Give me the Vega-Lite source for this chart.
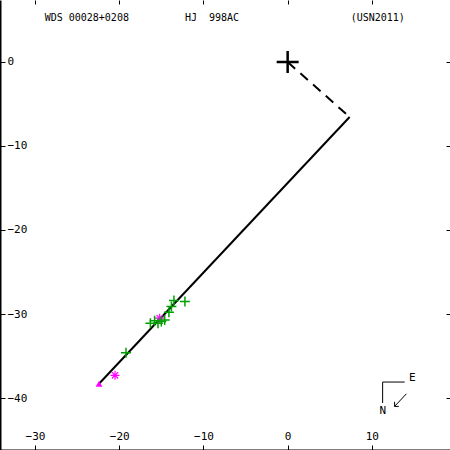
{
  "$schema": "https://vega.github.io/schema/vega-lite/v6.json",
  "width": 450,
  "height": 450,
  "autosize": {"type": "none"},
  "padding": 0,
  "background": "white",
  "config": {
    "view": {"stroke": null},
    "axis": {
      "grid": false,
      "title": null,
      "labelFont": "DejaVu Sans Mono",
      "labelFontSize": 11,
      "labelColor": "black",
      "tickColor": "black",
      "domainColor": "black",
      "domainWidth": 2,
      "tickWidth": 1
    }
  },
  "resolve": {"axis": {"x": "independent", "y": "independent"}},
  "layer": [
    {
      "data": {"values": [{"x1": -22.4, "y1": -38.3, "x2": 7.36, "y2": -6.55}]},
      "mark": {"type": "rule", "color": "black", "strokeWidth": 2},
      "encoding": {
        "x": {"field": "x1", "type": "quantitative",
              "scale": {"domain": [-34.16, 19.28], "nice": false, "zero": false},
              "axis": {"orient": "bottom", "values": [-30, -20, -10, 0, 10], "tickSize": -5, "labelPadding": -5.5, "labelBaseline": "alphabetic", "labelAlign": "center", "labelFlush": false, "labelOverlap": false}},
        "y": {"field": "y1", "type": "quantitative",
              "scale": {"domain": [-46.19, 7.38], "nice": false, "zero": false},
              "axis": {"orient": "left", "values": [0, -10, -20, -30, -40], "tickSize": -5, "labelPadding": -2, "labelAlign": "left", "labelBaseline": "middle", "labelFlush": false, "labelOverlap": false}},
        "x2": {"field": "x2"},
        "y2": {"field": "y2"}
      }
    },
    {
      "data": {"values": [{"x1": 0, "y1": 0, "x2": 7.36, "y2": -6.55}]},
      "mark": {"type": "rule", "color": "black", "strokeWidth": 2, "strokeDash": [10, 7]},
      "encoding": {
        "x": {"field": "x1", "type": "quantitative",
              "axis": {"orient": "top", "values": [-30, -20, -10, 0, 10], "tickSize": -4, "labels": false, "domain": false}},
        "y": {"field": "y1", "type": "quantitative",
              "axis": {"orient": "right", "values": [0, -10, -20, -30, -40], "tickSize": -4, "labels": false, "domain": false}},
        "x2": {"field": "x2"},
        "y2": {"field": "y2"}
      }
    },
    {
      "data": {"values": [{"x": 0, "y": 0}]},
      "mark": {"type": "point", "shape": "M-1,0H1M0,-1V1", "size": 484, "filled": false, "stroke": "black", "strokeWidth": 2.5, "opacity": 1},
      "encoding": {
        "x": {"field": "x", "type": "quantitative", "axis": null},
        "y": {"field": "y", "type": "quantitative", "axis": null}
      }
    },
    {
      "data": {"values": [
        {"x": -15.2, "y": -30.5},
        {"x": -20.5, "y": -37.3}
      ]},
      "mark": {"type": "point", "shape": "M-1,0H1M0,-1V1M-0.7,-0.7L0.7,0.7M-0.7,0.7L0.7,-0.7", "size": 81, "filled": false, "stroke": "#ff00ff", "strokeWidth": 1.2, "opacity": 1},
      "encoding": {
        "x": {"field": "x", "type": "quantitative", "axis": null},
        "y": {"field": "y", "type": "quantitative", "axis": null}
      }
    },
    {
      "data": {"values": [
        {"x": -13.5, "y": -28.4},
        {"x": -12.2, "y": -28.5},
        {"x": -13.8, "y": -29.1},
        {"x": -14.1, "y": -29.8},
        {"x": -14.6, "y": -30.7},
        {"x": -15.0, "y": -30.9},
        {"x": -15.8, "y": -30.8},
        {"x": -15.4, "y": -31.1},
        {"x": -16.3, "y": -31.1},
        {"x": -19.2, "y": -34.6}
      ]},
      "mark": {"type": "point", "shape": "M-1,0H1M0,-1V1", "size": 100, "filled": false, "stroke": "#00a000", "strokeWidth": 1.5, "opacity": 1},
      "encoding": {
        "x": {"field": "x", "type": "quantitative", "axis": null},
        "y": {"field": "y", "type": "quantitative", "axis": null}
      }
    },
    {
      "data": {"values": [{"x": -22.4, "y": -38.3}]},
      "mark": {"type": "point", "shape": "triangle-up", "size": 45, "filled": true, "color": "#ff00ff", "opacity": 1},
      "encoding": {
        "x": {"field": "x", "type": "quantitative", "axis": null},
        "y": {"field": "y", "type": "quantitative", "axis": null}
      }
    },
    {
      "data": {"values": [
        {"x1": 11.28, "y1": -38.1, "x2": 13.9, "y2": -38.1},
        {"x1": 11.28, "y1": -38.1, "x2": 11.28, "y2": -40.6},
        {"x1": 14.1, "y1": -39.5, "x2": 12.7, "y2": -41.0},
        {"x1": 12.7, "y1": -41.0, "x2": 13.2, "y2": -41.0},
        {"x1": 12.7, "y1": -41.0, "x2": 12.7, "y2": -40.45}
      ]},
      "mark": {"type": "rule", "color": "black", "strokeWidth": 1},
      "encoding": {
        "x": {"field": "x1", "type": "quantitative", "axis": null},
        "y": {"field": "y1", "type": "quantitative", "axis": null},
        "x2": {"field": "x2"},
        "y2": {"field": "y2"}
      }
    },
    {
      "data": {"values": [
        {"x": 14.4, "y": -37.6, "t": "E"},
        {"x": 10.9, "y": -41.6, "t": "N"}
      ]},
      "mark": {"type": "text", "font": "DejaVu Sans Mono", "fontSize": 11, "color": "black", "align": "left", "baseline": "middle"},
      "encoding": {
        "x": {"field": "x", "type": "quantitative", "axis": null},
        "y": {"field": "y", "type": "quantitative", "axis": null},
        "text": {"field": "t"}
      }
    },
    {
      "data": {"values": [
        {"x": -28.86, "y": 4.85, "t": "WDS 00028+0208"},
        {"x": -12.2, "y": 4.85, "t": "HJ \u00a0998AC"},
        {"x": 7.48, "y": 4.85, "t": "(USN2011)"}
      ]},
      "mark": {"type": "text", "font": "DejaVu Sans Mono", "fontSize": 10, "color": "black", "align": "left", "baseline": "alphabetic"},
      "encoding": {
        "x": {"field": "x", "type": "quantitative", "axis": null},
        "y": {"field": "y", "type": "quantitative", "axis": null},
        "text": {"field": "t"}
      }
    }
  ]
}
